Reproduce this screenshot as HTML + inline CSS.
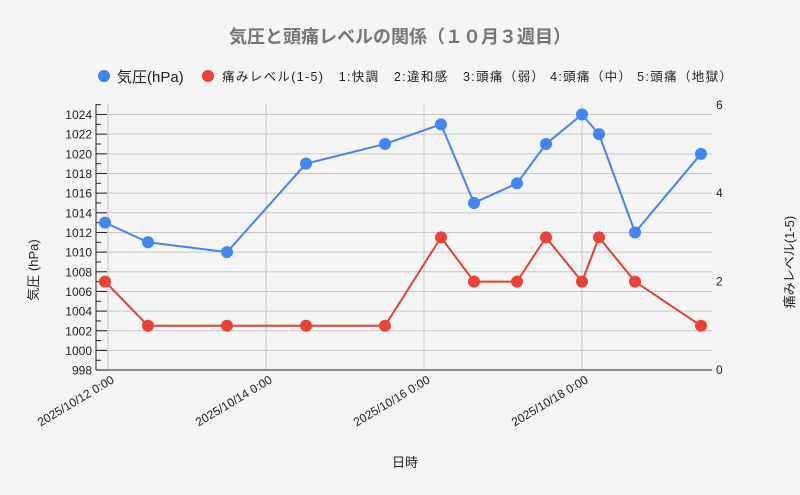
<!DOCTYPE html>
<html><head><meta charset="utf-8"><style>
html,body{margin:0;padding:0;background:#f5f5f5;}
svg{display:block;font-family:"Liberation Sans","Noto Sans CJK JP",sans-serif;}
</style></head><body>
<svg id="c" width="800" height="495" xmlns="http://www.w3.org/2000/svg">
<rect width="800" height="495" fill="#f5f5f5"/>
<text x="400" y="43" text-anchor="middle" font-size="18" font-weight="bold" fill="#757575">気圧と頭痛レベルの関係（１０月３週目）</text>
<circle cx="104" cy="76" r="6" fill="#4285f4"/>
<text x="117" y="82" font-size="15" fill="#222">気圧(hPa)</text>
<circle cx="208" cy="76" r="6" fill="#ea4335"/>
<text x="222" y="81" font-size="12.5" fill="#222" textLength="510" lengthAdjust="spacing" style="white-space:pre">痛みレベル(1-5)   1:快調   2:違和感   3:頭痛（弱） 4:頭痛（中） 5:頭痛（地獄）</text>
<g id="g"></g>
<text transform="translate(38,270) rotate(-90)" text-anchor="middle" font-size="13" fill="#222">気圧 (hPa)</text>
<text transform="translate(794,262) rotate(-90)" text-anchor="middle" font-size="13" fill="#222">痛みレベル(1-5)</text>
<text x="405" y="467" text-anchor="middle" font-size="13" fill="#222">日時</text>
</svg>
<script>
var g=document.getElementById('g'),s='';
function yp(p){return 114.5+(1024-p)*9.83;}
function yl(v){return 370-v*44.2;}
for(var p=998;p<=1025;p++){var y=yp(p);
 if(p%2==0&&p>998) s+='<line x1="96" x2="712" y1="'+y+'" y2="'+y+'" stroke="#c6c6c6"/>';
 s+='<line x1="96" x2="'+(p%2==0?107:101)+'" y1="'+y+'" y2="'+y+'" stroke="#222"/>';
 if(p%2==0) s+='<text x="92" y="'+(y+4.5)+'" text-anchor="end" font-size="12" fill="#222">'+p+'</text>';}
var xs=[108,266,424,582],ds=['12','14','16','18'];
for(var i=0;i<4;i++){s+='<line x1="'+xs[i]+'" x2="'+xs[i]+'" y1="104" y2="370" stroke="#c6c6c6"/>';
 s+='<text transform="translate('+(xs[i]+7)+',382) rotate(-31)" text-anchor="end" font-size="12" fill="#222">2025/10/'+ds[i]+' 0:00</text>';}
s+='<line x1="96" x2="96" y1="104" y2="370" stroke="#222"/><line x1="96" x2="712" y1="370" y2="370" stroke="#222"/>';
[0,2,4,6].forEach(function(v){s+='<text x="716" y="'+(yl(v)+4)+'" font-size="12" fill="#222">'+v+'</text>';});
var d=[[105,1013,2],[148,1011,1],[227,1010,1],[306,1019,1],[385,1021,1],[441,1023,3],[474,1015,2],[517,1017,2],[546,1021,3],[582,1024,2],[599,1022,3],[635,1012,2],[701,1020,1]];
var a='',b='';d.forEach(function(e){a+=e[0]+','+yp(e[1])+' ';b+=e[0]+','+yl(e[2])+' ';});
s+='<polyline points="'+a+'" fill="none" stroke="#4285f4" stroke-width="2"/>';
s+='<polyline points="'+b+'" fill="none" stroke="#db4437" stroke-width="2"/>';
d.forEach(function(e){s+='<circle cx="'+e[0]+'" cy="'+yp(e[1])+'" r="6" fill="#4285f4"/><circle cx="'+e[0]+'" cy="'+yl(e[2])+'" r="6" fill="#ea4335"/>';});
g.innerHTML=s;
</script>
</body></html>
